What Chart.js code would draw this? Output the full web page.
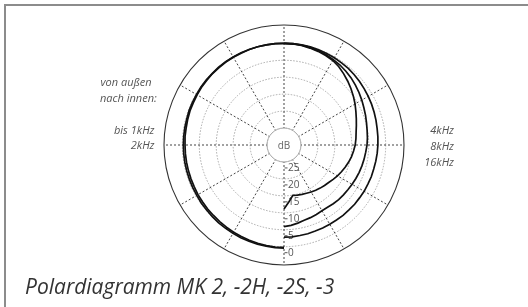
<!DOCTYPE html>
<html><head><meta charset="utf-8">
<script src="https://cdn.jsdelivr.net/npm/chart.js@4.4.1/dist/chart.umd.min.js"></script>
<style>html,body{margin:0;padding:0;background:#fff;}canvas{display:block;}</style>
</head><body>
<canvas id="c" width="528" height="307"></canvas>
<script>
// angle categories (degrees, clockwise from top)
const angleLabels = [0,5,10,15,20,25,30,35,40,45,50,55,60,65,70,75,80,85,90,95,100,105,110,115,120,125,130,135,140,145,150,155,160,165,170,175,
  180,185,190,195,200,205,210,215,220,225,230,235,240,245,250,255,260,265,270,275,280,285,290,295,300,305,310,315,320,325,330,335,340,345,350,355];

// right half 0..180 deg (attenuation in dB)
const att4k  = [0,0,0,0,0.1,0.2,0.3,0.4,0.5,0.7,0.9,1.1,1.3,1.5,1.7,1.9,2.1,2.2,2.3,2.4,2.5,2.6,2.6,2.7,2.7,2.8,2.8,2.9,2.9,3.0,3.0,3.0,3.0,2.9,2.9,2.8,2.8];
const att8k  = [0,0,0.1,0.2,0.4,0.6,0.9,1.2,1.6,2.0,2.5,3.0,3.5,4.0,4.4,4.8,5.1,5.3,5.5,5.8,6.0,6.2,6.4,6.6,6.8,7.0,7.1,7.2,7.4,7.6,7.6,7.4,7.2,7.0,6.6,6.2,5.9];
const att16k = [0,0.1,0.2,0.4,0.6,0.9,1.2,1.8,2.6,3.4,4.2,5.0,5.8,6.6,7.3,7.9,8.4,8.7,9.0,9.4,9.8,10.3,10.8,11.3,11.8,12.3,12.8,13.1,13.4,13.7,14.0,14.3,14.5,14.7,14.9,13.2,11.1];
// left half 180..360 deg
const att1k  = [-0.4,-0.4,-0.3,-0.3,-0.2,-0.2,-0.1,0,0,0.1,0.2,0.2,0.3,0.3,0.3,0.3,0.3,0.3,0.3,0.3,0.3,0.3,0.2,0.2,0.2,0.1,0.1,0.1,0,0,0,0,0,0,0,0,0];
const att2k  = [-0.2,-0.2,-0.1,0,0.1,0.2,0.3,0.4,0.5,0.6,0.6,0.7,0.7,0.8,0.8,0.8,0.8,0.8,0.8,0.7,0.7,0.6,0.5,0.5,0.4,0.3,0.3,0.2,0.2,0.1,0.1,0.1,0,0,0,0,0];

const ringTicks = [0,5,10,15,20,25];        // dB labels
const leftLabels = ['bis 1kHz','2kHz'];
const rightLabels = ['4kHz','8kHz','16kHz'];
const noteLines = ['von außen','nach innen:'];
const titleText = 'Polardiagramm MK 2, -2H, -2S, -3';

const REF = 30, RMAX = 35.4;
function rightSeries(att){ return angleLabels.map((a,i)=> i<=36 ? REF-att[i] : null); }
function leftSeries(att){ return angleLabels.map((a,i)=> i===0 ? REF-att[36] : (i>=36 ? REF-att[i-36] : null)); }

const lineStyle = {borderColor:'#111', borderWidth:1.7, pointRadius:0, fill:false, spanGaps:false, tension:0};
const datasets = [
  Object.assign({label:'bis 1kHz', data:leftSeries(att1k)}, lineStyle),
  Object.assign({label:'2kHz', data:leftSeries(att2k)}, lineStyle),
  Object.assign({label:'4kHz', data:rightSeries(att4k)}, lineStyle),
  Object.assign({label:'8kHz', data:rightSeries(att8k)}, lineStyle),
  Object.assign({label:'16kHz', data:rightSeries(att16k)}, lineStyle)
];

const FONT = '"Open Sans", "Noto Sans", "DejaVu Sans", sans-serif';

const deco = {
  id:'deco',
  beforeDatasetsDraw(chart){
    const s = chart.scales.r, ctx = chart.ctx;
    const cx = s.xCenter, cy = s.yCenter;
    const r5 = s.getDistanceFromCenterForValue(5);
    ctx.save();
    ctx.beginPath(); ctx.arc(cx, cy, r5, 0, Math.PI*2);
    ctx.fillStyle = '#fff'; ctx.fill();
    ctx.strokeStyle = '#a8a8a8'; ctx.lineWidth = 1; ctx.stroke();
    ctx.fillStyle = '#666'; ctx.font = '10px ' + FONT;
    ctx.textAlign = 'center'; ctx.textBaseline = 'middle';
    ctx.fillText('dB', cx, cy + 1);
    ctx.textAlign = 'left';
    ctx.font = '10px ' + FONT;
    ringTicks.forEach(t => {
      const y = cy + s.getDistanceFromCenterForValue(REF - t) + 5.5;
      ctx.strokeStyle = '#555'; ctx.lineWidth = 1;
      ctx.beginPath(); ctx.moveTo(cx + 0.5, y + 0.5); ctx.lineTo(cx + 3.5, y + 0.5); ctx.stroke();
      ctx.fillStyle = '#555';
      ctx.fillText(String(t), cx + 4, y + 1);
    });
    ctx.restore();
  },
  afterDraw(chart){
    const ctx = chart.ctx;
    ctx.save();
    ctx.strokeStyle = '#8c8c8c'; ctx.lineWidth = 2;
    ctx.beginPath(); ctx.moveTo(5, 307); ctx.lineTo(5, 5); ctx.lineTo(528, 5); ctx.stroke();
    ctx.fillStyle = '#555';
    ctx.font = 'italic 11px ' + FONT;
    ctx.textBaseline = 'middle';
    ctx.textAlign = 'left';
    ctx.fillText(noteLines[0], 100.5, 83);
    ctx.fillText(noteLines[1], 100, 99);
    ctx.textAlign = 'right';
    ctx.fillText(leftLabels[0], 154.5, 131);
    ctx.fillText(leftLabels[1], 154.5, 146);
    ctx.fillText(rightLabels[0], 454, 131);
    ctx.fillText(rightLabels[1], 454, 146.5);
    ctx.fillText(rightLabels[2], 454, 163);
    ctx.textAlign = 'left';
    ctx.textBaseline = 'alphabetic';
    ctx.fillStyle = '#333';
    ctx.font = 'italic 21px ' + FONT;
    ctx.fillText(titleText, 25, 294);
    ctx.restore();
  }
};

new Chart(document.getElementById('c'), {
  type:'radar',
  data:{labels:angleLabels, datasets},
  options:{
    responsive:false, animation:false, devicePixelRatio:1,
    layout:{padding:{left:164, right:124, top:25, bottom:42}},
    plugins:{legend:{display:false}, tooltip:{enabled:false}},
    scales:{r:{
      min:0, max:RMAX,
      afterBuildTicks(scale){ scale.ticks = [0,5,10,15,20,25,30,RMAX].map(v=>({value:v})); },
      ticks:{display:false},
      pointLabels:{display:false},
      grid:{circular:true,
        color:(c)=> (c.tick && c.tick.value===RMAX) ? '#333' : '#a8a8a8',
        lineWidth:(c)=> (c.tick && c.tick.value===RMAX) ? 1.1 : 1},
      border:{dash:(c)=> (c.tick && c.tick.value===RMAX) ? [] : [1.5,1.5]},
      angleLines:{
        color:(c)=> (c.index % 6 === 0) ? '#444' : 'rgba(0,0,0,0)',
        lineWidth:(c)=> (c.index % 6 === 0) ? 1 : 0,
        borderDash:[2,2]
      }
    }}
  },
  plugins:[deco]
});
</script>
</body></html>
